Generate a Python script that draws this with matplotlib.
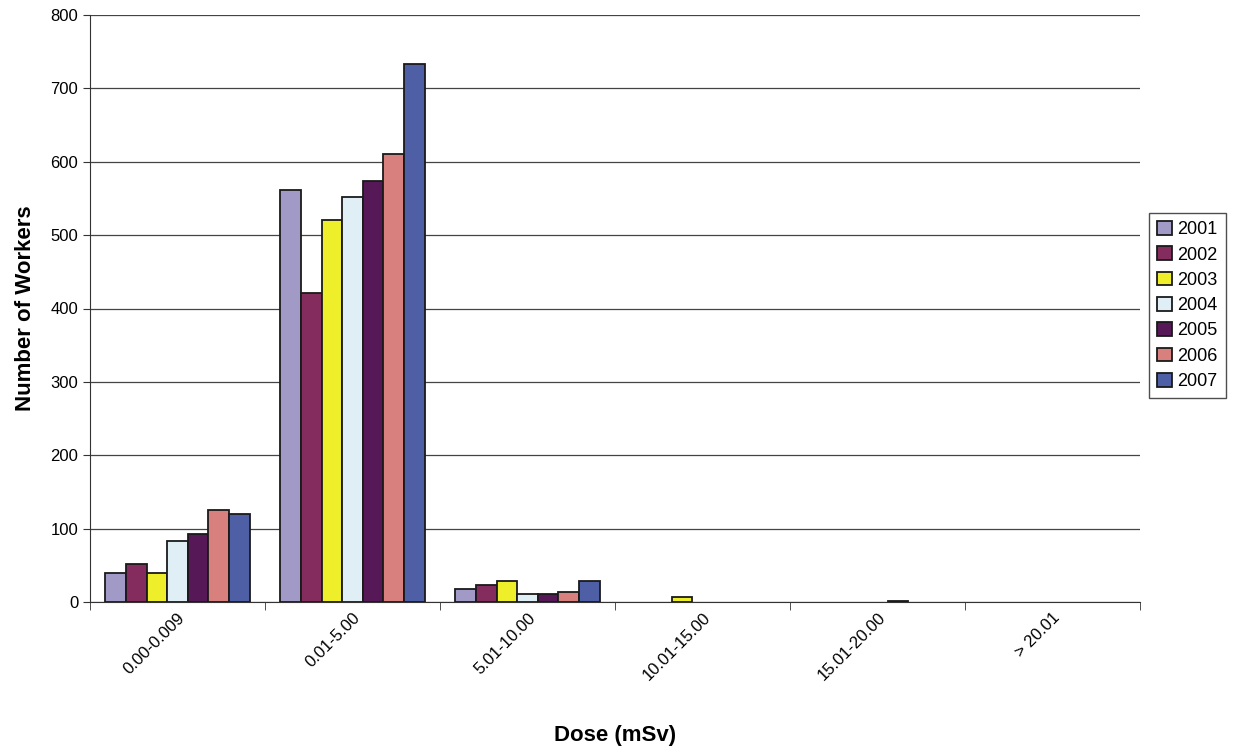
import numpy as np
import matplotlib
matplotlib.use("Agg")
import matplotlib.pyplot as plt

plt.rcParams['font.family'] = ['Liberation Sans', 'DejaVu Sans']

categories = ['0.00-0.009', '0.01-5.00', '5.01-10.00', '10.01-15.00', '15.01-20.00', '> 20.01']
years = ['2001', '2002', '2003', '2004', '2005', '2006', '2007']
values = {
    '2001': [39, 561, 18, 0, 0, 0],
    '2002': [52, 421, 23, 0, 0, 0],
    '2003': [40, 520, 29, 7, 0, 0],
    '2004': [83, 552, 11, 0, 0, 0],
    '2005': [93, 574, 11, 0, 1, 0],
    '2006': [126, 610, 14, 0, 0, 0],
    '2007': [120, 733, 29, 0, 0, 0],
}
colors = ['#A29AC6', '#852C5E', '#EEEE2A', '#E0EEF6', '#561856', '#D8807D', '#4F5FA6']

fig = plt.figure(figsize=(12.41, 7.51), dpi=100)
ax = fig.add_axes([90 / 1241, 1 - 602 / 751, 1050 / 1241, 587 / 751])

x = np.arange(len(categories))
w = 0.118
for i, (yr, c) in enumerate(zip(years, colors)):
    v = np.array(values[yr], dtype=float)
    v[v == 0] = np.nan  # empty classes show no bar
    ax.bar(x + (i - 3) * w, v, width=w, color=c, edgecolor='#1a1a1a',
           linewidth=1.3, label=yr, zorder=3)

ax.set_xlim(-0.5, len(categories) - 0.5)
ax.set_ylim(0, 800)
ax.set_yticks(range(0, 801, 100))
ax.yaxis.grid(True, color='#444444', linewidth=0.9, zorder=0)
ax.set_axisbelow(True)

# ticks sit between categories
ax.set_xticks(x)
ax.set_xticklabels(categories, rotation=45, ha='right', rotation_mode='anchor', fontsize=12)
ax.tick_params(axis='x', length=0, pad=6)
ax.set_xticks(np.arange(-0.5, len(categories), 1), minor=True)
ax.tick_params(axis='x', which='minor', length=6, color='#333333')
ax.tick_params(axis='y', labelsize=12, length=5, color='#333333')

for s in ['top', 'right']:
    ax.spines[s].set_visible(False)
for s in ['left', 'bottom']:
    ax.spines[s].set_color('#333333')

ax.set_ylabel('Number of Workers', fontsize=16, fontweight='bold', labelpad=10)
ax.set_xlabel('Dose (mSv)', fontsize=16, fontweight='bold', labelpad=30)

leg = ax.legend(loc='center left', bbox_to_anchor=(1.0, 0.505), fontsize=13,
                frameon=True, fancybox=False, edgecolor='#222222',
                handlelength=0.8, handleheight=0.8, handletextpad=0.3,
                labelspacing=0.45, borderpad=0.45)

fig.savefig('out.png', dpi=100)
